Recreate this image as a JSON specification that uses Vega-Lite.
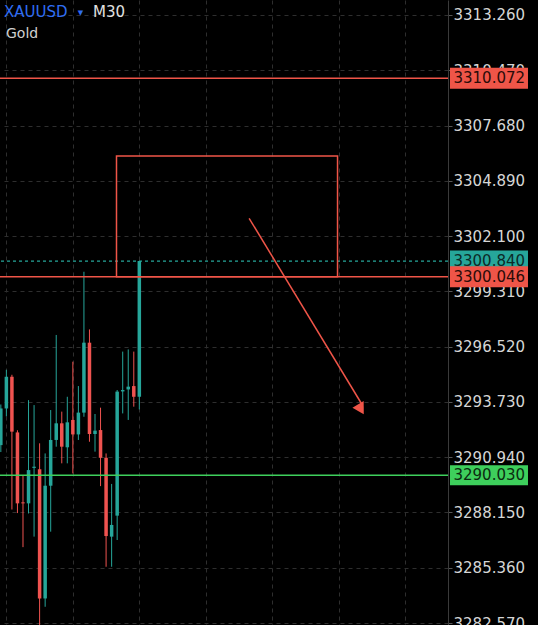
{
  "$schema": "https://vega.github.io/schema/vega-lite/v6.json",
  "width": 448,
  "height": 625,
  "padding": {"left": 0, "top": 0, "right": 90, "bottom": 0},
  "autosize": {"type": "none"},
  "background": "#000000",
  "config": {"view": {"stroke": null}, "font": "DejaVu Sans"},
  "datasets": {
    "candles": [
      {"i": 0, "open": 3291.55, "high": 3293.6, "low": 3291.2, "close": 3293.4},
      {"i": 1, "open": 3293.4, "high": 3295.35, "low": 3293.0, "close": 3295.0},
      {"i": 2, "open": 3295.0, "high": 3295.1, "low": 3288.3, "close": 3292.23},
      {"i": 3, "open": 3292.19, "high": 3292.3, "low": 3288.12, "close": 3288.61},
      {"i": 4, "open": 3288.66, "high": 3290.04, "low": 3286.4, "close": 3288.61},
      {"i": 5, "open": 3288.61, "high": 3293.82, "low": 3288.1, "close": 3290.29},
      {"i": 6, "open": 3290.4, "high": 3293.57, "low": 3286.93, "close": 3290.46},
      {"i": 7, "open": 3290.33, "high": 3291.64, "low": 3282.3, "close": 3283.81},
      {"i": 8, "open": 3283.81, "high": 3291.13, "low": 3283.39, "close": 3289.5},
      {"i": 9, "open": 3289.5, "high": 3293.32, "low": 3287.18, "close": 3291.81},
      {"i": 10, "open": 3291.81, "high": 3297.11, "low": 3291.47, "close": 3292.65},
      {"i": 11, "open": 3292.65, "high": 3293.24, "low": 3290.63, "close": 3291.47},
      {"i": 12, "open": 3291.44, "high": 3293.99, "low": 3290.63, "close": 3292.7},
      {"i": 13, "open": 3292.82, "high": 3295.76, "low": 3290.12, "close": 3292.09},
      {"i": 14, "open": 3292.09, "high": 3294.53, "low": 3291.81, "close": 3293.19},
      {"i": 15, "open": 3293.19, "high": 3300.3, "low": 3292.98, "close": 3296.72},
      {"i": 16, "open": 3296.72, "high": 3297.39, "low": 3291.72, "close": 3292.11},
      {"i": 17, "open": 3292.11, "high": 3293.12, "low": 3291.22, "close": 3292.28},
      {"i": 18, "open": 3292.31, "high": 3293.44, "low": 3289.48, "close": 3290.91},
      {"i": 19, "open": 3290.91, "high": 3291.13, "low": 3285.41, "close": 3286.96},
      {"i": 20, "open": 3286.93, "high": 3289.59, "low": 3285.41, "close": 3287.52},
      {"i": 21, "open": 3287.99, "high": 3294.33, "low": 3286.76, "close": 3294.25},
      {"i": 22, "open": 3294.26, "high": 3296.27, "low": 3293.15, "close": 3294.33},
      {"i": 23, "open": 3294.36, "high": 3296.38, "low": 3292.82, "close": 3294.5},
      {"i": 24, "open": 3294.53, "high": 3296.27, "low": 3293.49, "close": 3293.99},
      {"i": 25, "open": 3293.99, "high": 3300.84, "low": 3293.35, "close": 3300.84}
    ]
  },
  "layer": [
    {
      "data": {"name": "candles"},
      "mark": {"type": "rule", "strokeWidth": 1, "clip": true},
      "encoding": {
        "x": {
          "field": "i", "type": "quantitative", "title": null,
          "scale": {"domain": [-0.15, 80.72], "nice": false, "zero": false},
          "axis": {"orient": "bottom", "values": [1, 13, 25, 37, 49, 61, 73], "grid": true, "gridColor": "#2e2e2e", "gridDash": [4, 4], "labels": false, "ticks": false, "domain": false, "title": null}
        },
        "y": {
          "field": "low", "type": "quantitative", "title": null,
          "scale": {"domain": [3282.47, 3314.017], "nice": false, "zero": false},
          "axis": {"orient": "right", "values": [3282.57, 3285.36, 3288.15, 3290.94, 3293.73, 3296.52, 3299.31, 3302.1, 3304.89, 3307.68, 3310.47, 3313.26], "format": ".3f", "grid": true, "gridColor": "#2e2e2e", "gridDash": [4, 4], "labelColor": "#d6d6d6", "labelFont": "DejaVu Sans", "labelFontSize": 15, "labelPadding": 1, "tickSize": 4, "tickColor": "#555555", "domainColor": "#3a3a3a", "labelOverlap": false, "labelBaseline": "middle", "title": null}
        },
        "y2": {"field": "high"},
        "color": {"condition": {"test": "datum.close >= datum.open", "value": "#26a69a"}, "value": "#ef5350"}
      }
    },
    {
      "data": {"name": "candles"},
      "mark": {"type": "rule", "strokeWidth": 3.5, "strokeCap": "butt", "clip": true},
      "encoding": {
        "x": {"field": "i", "type": "quantitative", "title": null},
        "y": {"field": "open", "type": "quantitative", "title": null},
        "y2": {"field": "close"},
        "color": {"condition": {"test": "datum.close >= datum.open", "value": "#26a69a"}, "value": "#ef5350"}
      }
    },
    {
      "data": {"values": [{"price": 3300.84}]},
      "mark": {"type": "rule", "color": "#26a69a", "strokeWidth": 1.2, "strokeDash": [3, 3]},
      "encoding": {"y": {"field": "price", "type": "quantitative", "title": null}}
    },
    {
      "data": {"values": [{"price": 3310.072}, {"price": 3300.046}]},
      "mark": {"type": "rule", "color": "#ef5548", "strokeWidth": 1.5},
      "encoding": {"y": {"field": "price", "type": "quantitative", "title": null}}
    },
    {
      "data": {"values": [{"price": 3290.03}]},
      "mark": {"type": "rule", "color": "#3ecf5c", "strokeWidth": 1.5},
      "encoding": {"y": {"field": "price", "type": "quantitative", "title": null}}
    },
    {
      "data": {"values": [{"x1": 20.88, "x2": 60.78, "top": 3306.142, "bottom": 3300.046}]},
      "mark": {"type": "rect", "fillOpacity": 0, "stroke": "#ef5548", "strokeWidth": 1.5},
      "encoding": {
        "x": {"field": "x1", "type": "quantitative", "title": null},
        "x2": {"field": "x2"},
        "y": {"field": "top", "type": "quantitative", "title": null},
        "y2": {"field": "bottom"}
      }
    },
    {
      "data": {"values": [{"x1": 44.82, "y1": 3303.0, "x2": 65.2, "y2": 3293.6}]},
      "mark": {"type": "rule", "color": "#ef5548", "strokeWidth": 1.5},
      "encoding": {
        "x": {"field": "x1", "type": "quantitative", "title": null},
        "x2": {"field": "x2"},
        "y": {"field": "y1", "type": "quantitative", "title": null},
        "y2": {"field": "y2"}
      }
    },
    {
      "data": {"values": [{"x": 65.0, "y": 3293.36}]},
      "mark": {"type": "point", "shape": "triangle-up", "filled": true, "color": "#ef5548", "opacity": 1, "size": 170, "angle": 149.7},
      "encoding": {
        "x": {"field": "x", "type": "quantitative", "title": null},
        "y": {"field": "y", "type": "quantitative", "title": null}
      }
    },
    {
      "data": {"values": [{"price": 3300.84}]},
      "layer": [
        {"mark": {"type": "rule", "color": "#26a69a", "strokeWidth": 21, "strokeCap": "butt"},
         "encoding": {"x": {"datum": 81.08, "type": "quantitative", "title": null}, "x2": {"datum": 95.16}, "y": {"field": "price", "type": "quantitative", "title": null}}},
        {"mark": {"type": "text", "align": "left", "baseline": "middle", "font": "DejaVu Sans", "fontSize": 15, "color": "#0c2b28"},
         "encoding": {"x": {"datum": 81.71, "type": "quantitative", "title": null}, "y": {"field": "price", "type": "quantitative", "title": null}, "text": {"field": "price", "type": "quantitative", "format": ".3f"}}}
      ]
    },
    {
      "data": {"values": [{"price": 3310.072}, {"price": 3300.046}]},
      "layer": [
        {"mark": {"type": "rule", "color": "#ef5548", "strokeWidth": 21, "strokeCap": "butt"},
         "encoding": {"x": {"datum": 81.08, "type": "quantitative", "title": null}, "x2": {"datum": 95.16}, "y": {"field": "price", "type": "quantitative", "title": null}}},
        {"mark": {"type": "text", "align": "left", "baseline": "middle", "font": "DejaVu Sans", "fontSize": 15, "color": "#2a0c09"},
         "encoding": {"x": {"datum": 81.71, "type": "quantitative", "title": null}, "y": {"field": "price", "type": "quantitative", "title": null}, "text": {"field": "price", "type": "quantitative", "format": ".3f"}}}
      ]
    },
    {
      "data": {"values": [{"price": 3290.03}]},
      "layer": [
        {"mark": {"type": "rule", "color": "#3ecf5c", "strokeWidth": 20, "strokeCap": "butt"},
         "encoding": {"x": {"datum": 81.08, "type": "quantitative", "title": null}, "x2": {"datum": 95.16}, "y": {"field": "price", "type": "quantitative", "title": null}}},
        {"mark": {"type": "text", "align": "left", "baseline": "middle", "font": "DejaVu Sans", "fontSize": 15, "color": "#0b2a10"},
         "encoding": {"x": {"datum": 81.71, "type": "quantitative", "title": null}, "y": {"field": "price", "type": "quantitative", "title": null}, "text": {"field": "price", "type": "quantitative", "format": ".3f"}}}
      ]
    },
    {
      "data": {"values": [{"label": "XAUUSD"}]},
      "mark": {"type": "text", "align": "left", "baseline": "alphabetic", "font": "DejaVu Sans", "fontSize": 15, "color": "#2f6df2"},
      "encoding": {"x": {"datum": 0.57, "type": "quantitative", "title": null}, "y": {"datum": 3313.159, "type": "quantitative", "title": null}, "text": {"field": "label"}}
    },
    {
      "data": {"values": [{"label": "▼"}]},
      "mark": {"type": "text", "align": "center", "baseline": "middle", "font": "DejaVu Sans", "fontSize": 7, "color": "#2f6df2"},
      "encoding": {"x": {"datum": 14.38, "type": "quantitative", "title": null}, "y": {"datum": 3313.36, "type": "quantitative", "title": null}, "text": {"field": "label"}}
    },
    {
      "data": {"values": [{"label": "M30"}]},
      "mark": {"type": "text", "align": "left", "baseline": "alphabetic", "font": "DejaVu Sans", "fontSize": 15, "color": "#e0e0e0"},
      "encoding": {"x": {"datum": 16.64, "type": "quantitative", "title": null}, "y": {"datum": 3313.159, "type": "quantitative", "title": null}, "text": {"field": "label"}}
    },
    {
      "data": {"values": [{"label": "Gold"}]},
      "mark": {"type": "text", "align": "left", "baseline": "alphabetic", "font": "DejaVu Sans", "fontSize": 14, "color": "#d0d0d0"},
      "encoding": {"x": {"datum": 0.93, "type": "quantitative", "title": null}, "y": {"datum": 3312.124, "type": "quantitative", "title": null}, "text": {"field": "label"}}
    }
  ]
}
